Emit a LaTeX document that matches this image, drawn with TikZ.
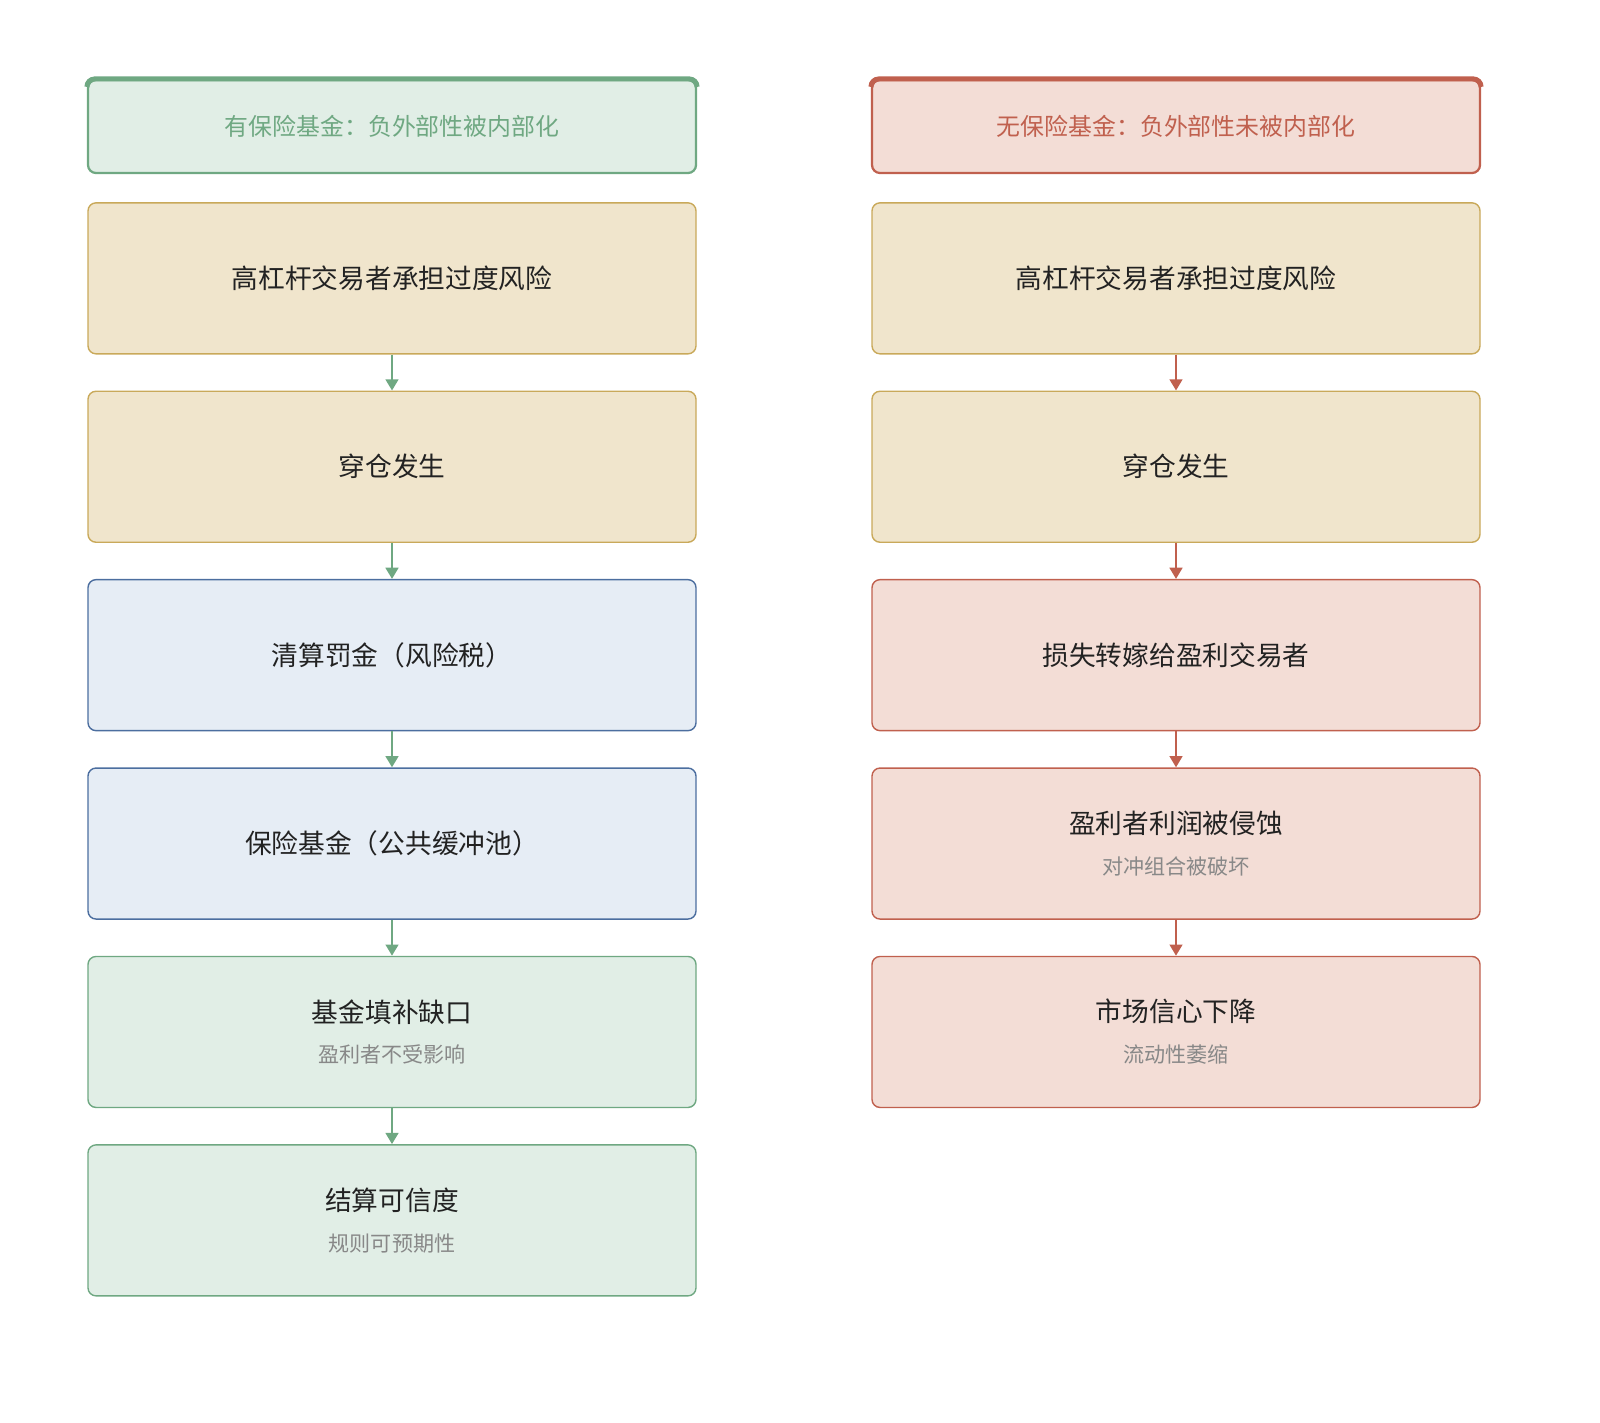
\documentclass[tikz,border=0pt]{standalone}
\usepackage{fontspec}
\setmainfont{Noto Sans CJK SC}
\usetikzlibrary{positioning,arrows.meta}
\definecolor{okline}{HTML}{6FA882}
\definecolor{okfill}{HTML}{E1EEE6}
\definecolor{badline}{HTML}{C0604E}
\definecolor{badfill}{HTML}{F3DDD6}
\definecolor{warnline}{HTML}{C9A95A}
\definecolor{warnfill}{HTML}{F0E5CC}
\definecolor{infoline}{HTML}{4C6E9F}
\definecolor{infofill}{HTML}{E6EDF5}
\definecolor{textdark}{HTML}{222222}
\definecolor{subgrey}{HTML}{888888}
\newcommand{\subtxt}[1]{\\[6pt]{\fontsize{15}{18}\selectfont\color{subgrey}#1}}
\begin{document}
\begin{tikzpicture}[
    node distance=0.9cm,
    box/.style={draw, rounded corners=0.2cm, line width=1pt, minimum width=15.2cm,
      minimum height=3.775cm, inner sep=0pt, align=center, text=textdark,
      font=\fontsize{19}{23}\selectfont},
    headbox/.style={box, minimum height=2.325cm, line width=1.6pt,
      font=\fontsize{17}{20}\selectfont},
    warnbox/.style={box, draw=warnline, fill=warnfill},
    infobox/.style={box, draw=infoline, fill=infofill},
    okbox/.style={box, draw=okline, fill=okfill},
    badbox/.style={box, draw=badline, fill=badfill},
    flow/.style={line width=1.8pt, -{Triangle[width=9pt, length=8pt]}}
  ]
  \useasboundingbox (0,0) rectangle (40,-35.55);

  % with fund
  \node[headbox, draw=okline, fill=okfill, text=okline] (lh) at (9.8,-3.1625)
    {有保险基金：负外部性被内部化};
  \node[warnbox, below=0.7cm of lh] (l1) {高杠杆交易者承担过度风险};
  \node[warnbox, below=of l1] (l2) {穿仓发生};
  \node[infobox, below=of l2] (l3) {清算罚金（风险税）};
  \node[infobox, below=of l3] (l4) {保险基金（公共缓冲池）};
  \node[okbox, below=of l4] (l5) {基金填补缺口\subtxt{盈利者不受影响}};
  \node[okbox, below=of l5] (l6) {结算可信度\subtxt{规则可预期性}};

  % without fund
  \node[headbox, draw=badline, fill=badfill, text=badline] (rh) at (29.4,-3.1625)
    {无保险基金：负外部性未被内部化};
  \node[warnbox, below=0.7cm of rh] (r1) {高杠杆交易者承担过度风险};
  \node[warnbox, below=of r1] (r2) {穿仓发生};
  \node[badbox, below=of r2] (r3) {损失转嫁给盈利交易者};
  \node[badbox, below=of r3] (r4) {盈利者利润被侵蚀\subtxt{对冲组合被破坏}};
  \node[badbox, below=of r4] (r5) {市场信心下降\subtxt{流动性萎缩}};

  % thick top edge of the headers
  \draw[okline, line width=3.5pt, rounded corners=0.2cm]
    ([yshift=-0.2cm]lh.north west) -- (lh.north west) -- (lh.north east) -- ([yshift=-0.2cm]lh.north east);
  \draw[badline, line width=3.5pt, rounded corners=0.2cm]
    ([yshift=-0.2cm]rh.north west) -- (rh.north west) -- (rh.north east) -- ([yshift=-0.2cm]rh.north east);

  \foreach \a/\b in {l1/l2, l2/l3, l3/l4, l4/l5, l5/l6}
    \draw[flow, okline] (\a) -- (\b);
  \foreach \a/\b in {r1/r2, r2/r3, r3/r4, r4/r5}
    \draw[flow, badline] (\a) -- (\b);
\end{tikzpicture}
\end{document}
